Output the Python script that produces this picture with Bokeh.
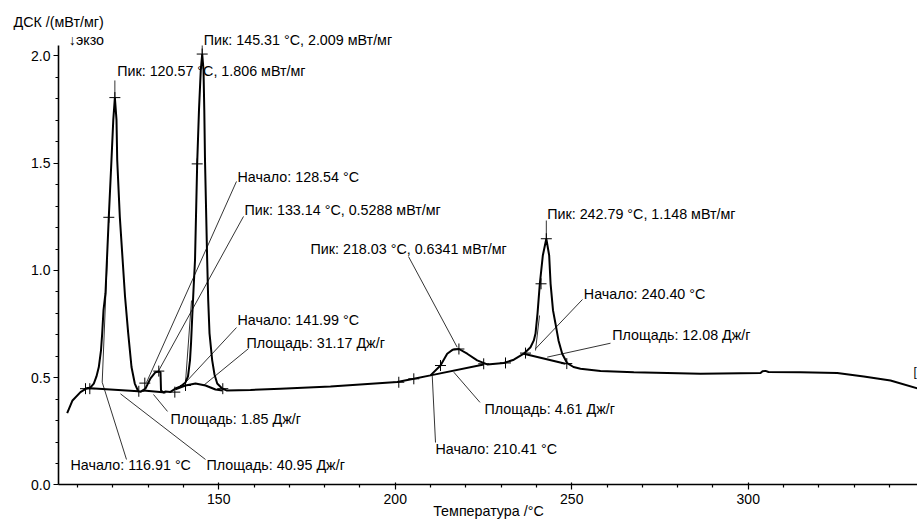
from bokeh.plotting import figure
from bokeh.models import Range1d, FixedTicker, PrintfTickFormatter, Label
from bokeh.embed import file_html
from bokeh.resources import INLINE

# ---- DSC curve (T in °C, DSC in mW/mg) ----
temp = [107.06, 108.57, 110.83, 112.53, 113.67, 114.60, 115.36, 116.02, 116.64, 116.98,
        117.35, 117.91, 118.85, 119.61, 120.12, 120.57, 121.03, 121.23, 121.97, 123.44,
        124.35, 125.28, 126.21, 127.18, 127.83, 129.25, 130.66, 132.08, 133.14, 133.50,
        133.64, 134.35, 134.91, 136.33, 137.74, 139.16, 140.58, 141.29, 141.85, 142.14,
        142.48, 142.84, 143.27, 143.89, 144.40, 144.91, 145.31, 145.68, 145.90, 146.10,
        146.72, 147.01, 147.38, 148.14, 148.79, 149.56, 150.97, 152.19, 158.99, 167.49,
        181.65, 200.55, 205.25, 209.98, 212.81, 214.71, 216.21, 218.03, 220.38, 223.21,
        226.05, 230.75, 233.58, 236.41, 238.31, 239.25, 239.73, 240.30, 240.95, 241.80,
        242.79, 243.60, 244.00, 244.69, 245.39, 246.24, 247.29, 248.71, 250.49, 252.47,
        258.14, 267.57, 286.47, 303.47, 304.04, 304.89, 305.74, 314.80, 325.20, 332.73,
        340.29, 347.94]
dsc = [0.335, 0.394, 0.433, 0.450, 0.455, 0.473, 0.506, 0.550, 0.628, 0.707,
       0.815, 0.894, 1.250, 1.516, 1.702, 1.806, 1.702, 1.516, 1.250, 0.880,
       0.707, 0.550, 0.473, 0.437, 0.434, 0.450, 0.497, 0.526, 0.529, 0.525,
       0.441, 0.431, 0.436, 0.434, 0.450, 0.459, 0.478, 0.506, 0.581, 0.660,
       0.783, 0.908, 1.048, 1.500, 1.749, 1.936, 2.009, 1.936, 1.749, 1.516,
       1.048, 0.861, 0.707, 0.581, 0.515, 0.473, 0.450, 0.441, 0.443, 0.449,
       0.459, 0.480, 0.495, 0.511, 0.557, 0.612, 0.630, 0.634, 0.612, 0.581,
       0.562, 0.569, 0.584, 0.612, 0.642, 0.674, 0.706, 0.800, 0.938, 1.070,
       1.148, 1.070, 0.938, 0.814, 0.752, 0.674, 0.612, 0.568, 0.550, 0.542,
       0.531, 0.526, 0.519, 0.522, 0.530, 0.532, 0.527, 0.526, 0.522, 0.506,
       0.487, 0.450]

# ---- integration baselines ----
base_t = [[112.53, 127.18], [128.68, 134.91],
          [137.74, 140.58, 143.41, 146.24, 149.08, 151.06],
          [209.98, 225.05], [236.41, 248.22]]
base_v = [[0.452, 0.437], [0.441, 0.431],
          [0.446, 0.464, 0.473, 0.464, 0.445, 0.441],
          [0.511, 0.562], [0.612, 0.565]]

# ---- evaluation markers ("+") ----
mark_t = [112.25, 113.47, 118.85, 120.57, 127.35, 129.05, 133.01, 137.55, 140.58, 143.89,
          145.31, 151.14, 201.00, 205.25, 212.81, 218.03, 225.05, 231.23, 236.89, 241.29,
          242.79, 248.59]
mark_v = [0.449, 0.449, 1.248, 1.806, 0.437, 0.475, 0.531, 0.433, 0.464, 1.497,
          2.009, 0.449, 0.479, 0.495, 0.557, 0.634, 0.565, 0.569, 0.615, 0.938,
          1.148, 0.566]

# ---- annotation texts, anchor points and leader lines ----
ann_text = ["Пик: 145.31 °C, 2.009 мВт/мг", "Пик: 120.57 °C, 1.806 мВт/мг",
            "Начало: 128.54 °C", "Пик: 133.14 °C, 0.5288 мВт/мг",
            "Пик: 218.03 °C, 0.6341 мВт/мг", "Пик: 242.79 °C, 1.148 мВт/мг",
            "Начало: 240.40 °C", "Начало: 141.99 °C", "Площадь: 31.17 Дж/г",
            "Площадь: 12.08 Дж/г", "Площадь: 4.61 Дж/г", "Площадь: 1.85 Дж/г",
            "Начало: 210.41 °C", "Начало: 116.91 °C", "Площадь: 40.95 Дж/г"]
ann_t = [145.76, 121.23, 155.31, 157.29, 175.99, 243.04, 253.41, 155.31, 157.86,
         261.45, 225.28, 136.33, 211.40, 108.00, 146.53]
ann_v = [2.076, 1.928, 1.434, 1.280, 1.101, 1.264, 0.891, 0.767, 0.660,
         0.697, 0.355, 0.310, 0.170, 0.091, 0.091]

lead_t = [[145.31, 145.31], [120.57, 120.57], [155.02, 129.53], [157.01, 133.01],
          [203.75, 217.55], [242.79, 242.79], [253.04, 239.73], [155.02, 140.58],
          [158.43, 145.68], [260.97, 243.04], [224.00, 216.58], [135.48, 131.51],
          [211.40, 210.47], [123.86, 116.98], [146.24, 122.16],
          [116.98, 118.40], [140.58, 142.28], [239.73, 240.86]]
lead_v = [[2.009, 2.049], [1.806, 1.886], [1.415, 0.478], [1.252, 0.534],
          [1.065, 0.642], [1.148, 1.233], [0.865, 0.635], [0.734, 0.478],
          [0.636, 0.464], [0.661, 0.596], [0.385, 0.526], [0.343, 0.422],
          [0.198, 0.510], [0.119, 0.479], [0.119, 0.425],
          [0.479, 1.047], [0.479, 0.860], [0.627, 0.790]]

x_major = [150, 200, 250, 300]
x_minor = [110, 120, 130, 140, 160, 170, 180, 190, 210, 220, 230, 240,
           260, 270, 280, 290, 310, 320, 330, 340]
y_major = [0.0, 0.5, 1.0, 1.5, 2.0]
y_minor = [0.1, 0.2, 0.3, 0.4, 0.6, 0.7, 0.8, 0.9, 1.1, 1.2, 1.3, 1.4,
           1.6, 1.7, 1.8, 1.9]

T_MIN, T_MAX = 104.6, 347.94   # span of the temperature axis
V_MIN, V_MAX = 0.0, 2.049      # span of the DSC axis

FONT = "Liberation Sans"
FS = "14.3px"

p = figure(width=917, height=520, output_backend="svg", toolbar_location=None,
           x_range=Range1d(88.17, 347.94), y_range=Range1d(-0.1655, 2.2587),
           min_border_left=0, min_border_right=0, min_border_top=0,
           min_border_bottom=0)
p.outline_line_color = None
p.grid.visible = False
p.background_fill_color = "white"
p.border_fill_color = "white"

for ax in (p.xaxis[0], p.yaxis[0]):
    ax.axis_line_width = 1.6
    ax.major_tick_line_width = 1.2
    ax.minor_tick_line_width = 1.2
    ax.major_label_text_font = FONT
    ax.major_label_text_font_size = "14px"
    ax.major_label_text_color = "black"
    ax.axis_line_color = "black"
    ax.major_tick_line_color = "black"
    ax.minor_tick_line_color = "black"

p.xaxis.fixed_location = V_MIN
p.xaxis.bounds = (T_MIN, T_MAX)
p.xaxis.ticker = FixedTicker(ticks=x_major, minor_ticks=x_minor)
p.xaxis.major_tick_out = 5
p.xaxis.major_tick_in = 2
p.xaxis.minor_tick_out = 3
p.xaxis.minor_tick_in = 0
p.xaxis.major_label_standoff = 4

p.yaxis.fixed_location = T_MIN
p.yaxis.bounds = (V_MIN, V_MAX)
p.yaxis.ticker = FixedTicker(ticks=y_major, minor_ticks=y_minor)
p.yaxis.formatter = PrintfTickFormatter(format="%.1f")
p.yaxis.major_tick_out = 5
p.yaxis.major_tick_in = 0
p.yaxis.minor_tick_out = 3
p.yaxis.minor_tick_in = 0
p.yaxis.major_label_standoff = 3

# leader / tangent lines
p.multi_line(lead_t, lead_v, line_color="black", line_width=0.8)
# baselines
p.multi_line(base_t, base_v, line_color="black", line_width=2)
# curve
p.line(temp, dsc, line_color="black", line_width=2)
# markers
p.scatter(mark_t, mark_v, marker="cross", size=11, line_color="black", line_width=1)

for t, tx, ty in zip(ann_text, ann_t, ann_v):
    p.add_layout(Label(x=tx, y=ty, text=t, text_font=FONT, text_font_size=FS,
                       text_baseline="middle", text_align="left", text_color="black"))

p.add_layout(Label(x=91.85, y=2.158, text="ДСК /(мВт/мг)", text_font=FONT,
                   text_font_size=FS, text_baseline="middle", text_align="left",
                   text_color="black"))
p.add_layout(Label(x=107.52, y=2.076, text="↓экзо", text_font=FONT,
                   text_font_size=FS, text_baseline="middle", text_align="left",
                   text_color="black"))
p.add_layout(Label(x=226.4, y=-0.1235, text="Температура /°C", text_font=FONT,
                   text_font_size=FS, text_baseline="middle", text_align="center",
                   text_color="black"))
p.add_layout(Label(x=346.8, y=0.526, text="[", text_font=FONT,
                   text_font_size="12px", text_baseline="middle", text_align="left",
                   text_color="black"))

open("out.html", "w").write(file_html(p, INLINE))
